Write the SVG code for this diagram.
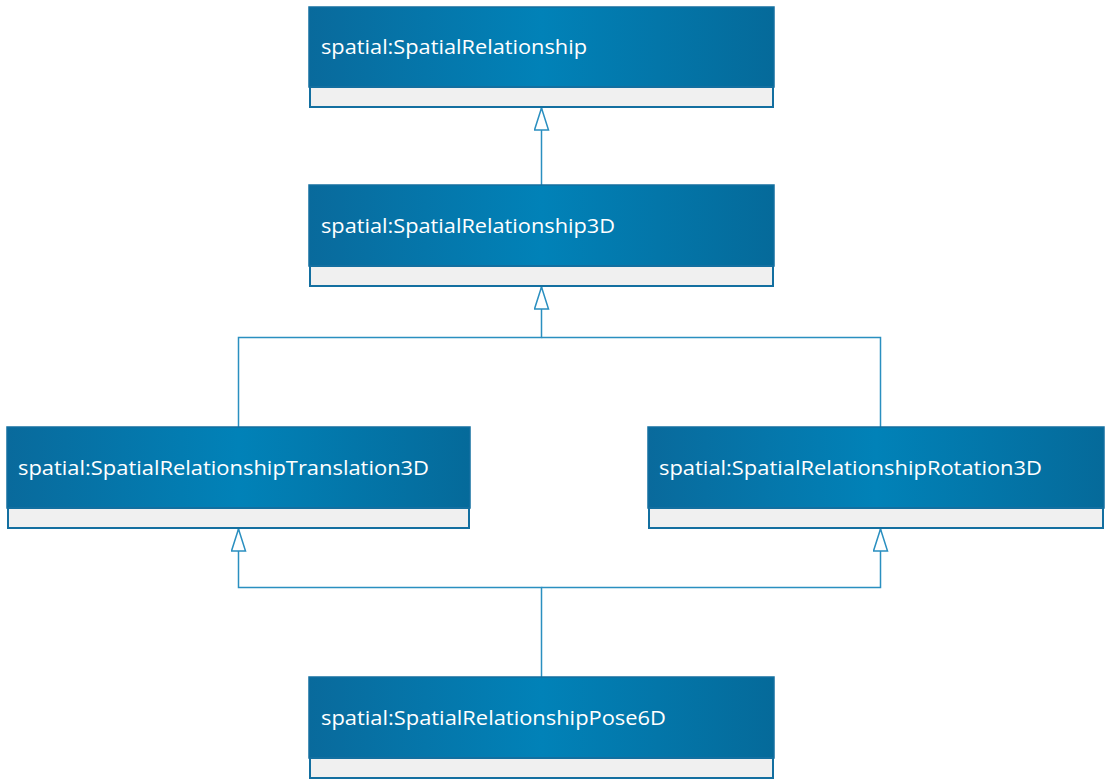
<svg xmlns="http://www.w3.org/2000/svg" width="1105" height="779" viewBox="0 0 1105 779">
  <defs>
    <linearGradient id="hdr" x1="0" y1="0" x2="1" y2="0">
      <stop offset="0" stop-color="#096a9c"/>
      <stop offset="0.5" stop-color="#0182b8"/>
      <stop offset="1" stop-color="#056a9a"/>
    </linearGradient>
    <!-- hollow generalization triangle, tip at the path end -->
    <marker id="gen" viewBox="0 0 24 16" refX="23" refY="8" markerWidth="24" markerHeight="16" markerUnits="userSpaceOnUse" orient="auto">
      <path d="M23,8 L1,1 L1,15 Z" fill="#fff" stroke="#2a8fc0" stroke-width="1.5"/>
    </marker>
  </defs>
  <style>
    .hdr { fill: url(#hdr); stroke: #136fa0; stroke-width: 1.5; }
    .cmp { fill: #f0f0f0; stroke: #136fa0; stroke-width: 2; }
    .lbl { fill: #ffffff; font-family: "Open Sans", "Noto Sans", sans-serif; font-size: 20px; }
    .edge { fill: none; stroke: #2a8fc0; stroke-width: 1.5; }
  </style>
  <rect width="1105" height="779" fill="#ffffff"/>

  <g id="connectors">
    <path class="edge" d="M541.5,185 V108" marker-end="url(#gen)"/>
    <path class="edge" d="M238.5,427 V337.5 H541.5 V287" marker-end="url(#gen)"/>
    <path class="edge" d="M880.5,427 V337.5 H541.5"/>
    <path class="edge" d="M541.5,677 V587.5 H238.5 V529" marker-end="url(#gen)"/>
    <path class="edge" d="M541.5,587.5 H880.5 V529" marker-end="url(#gen)"/>
  </g>

  <g id="SpatialRelationship">
    <rect class="hdr" x="309" y="7" width="465" height="80"/>
    <rect class="cmp" x="310" y="87" width="463" height="20"/>
    <text class="lbl" x="321" y="54" textLength="266" lengthAdjust="spacingAndGlyphs">spatial:SpatialRelationship</text>
  </g>

  <g id="SpatialRelationship3D">
    <rect class="hdr" x="309" y="185" width="465" height="81"/>
    <rect class="cmp" x="310" y="266" width="463" height="20"/>
    <text class="lbl" x="321" y="233" textLength="294" lengthAdjust="spacingAndGlyphs">spatial:SpatialRelationship3D</text>
  </g>

  <g id="SpatialRelationshipTranslation3D">
    <rect class="hdr" x="7" y="427" width="463" height="81"/>
    <rect class="cmp" x="8" y="508" width="461" height="20"/>
    <text class="lbl" x="18" y="475" textLength="411" lengthAdjust="spacingAndGlyphs">spatial:SpatialRelationshipTranslation3D</text>
  </g>

  <g id="SpatialRelationshipRotation3D">
    <rect class="hdr" x="648" y="427" width="456" height="81"/>
    <rect class="cmp" x="649" y="508" width="454" height="20"/>
    <text class="lbl" x="659" y="475" textLength="383" lengthAdjust="spacingAndGlyphs">spatial:SpatialRelationshipRotation3D</text>
  </g>

  <g id="SpatialRelationshipPose6D">
    <rect class="hdr" x="309" y="677" width="465" height="81"/>
    <rect class="cmp" x="310" y="758" width="463" height="20"/>
    <text class="lbl" x="321" y="725" textLength="345" lengthAdjust="spacingAndGlyphs">spatial:SpatialRelationshipPose6D</text>
  </g>
</svg>
